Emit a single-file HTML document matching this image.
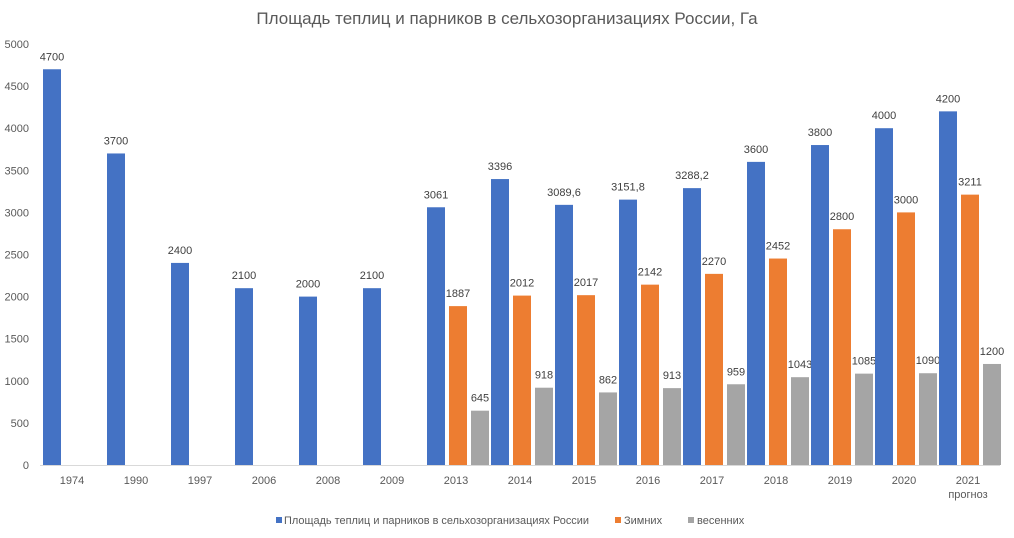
<!DOCTYPE html>
<html><head><meta charset="utf-8"><style>body{margin:0;background:#fff}svg{display:block}text{font-family:"Liberation Sans",sans-serif}</style></head><body>
<svg width="1014" height="538" xmlns="http://www.w3.org/2000/svg">
<rect width="1014" height="538" fill="#fff"/>
<text x="507" y="24" text-anchor="middle" font-size="17" fill="#595959">Площадь теплиц и парников в сельхозорганизациях России, Га</text>
<g font-size="11" fill="#595959" text-anchor="end" id="yt"></g>
<line x1="40" y1="465.5" x2="1000" y2="465.5" stroke="#d9d9d9"/>
<g id="bars"></g>
<g font-size="11" fill="#595959" text-anchor="middle" id="xl"></g>
<g font-size="11" fill="#595959">
<rect x="276" y="517" width="6" height="6" fill="#4472C4"/><text x="284" y="524" textLength="305" lengthAdjust="spacingAndGlyphs">Площадь теплиц и парников в сельхозорганизациях России</text>
<rect x="615" y="517" width="6" height="6" fill="#ED7D31"/><text x="624" y="524">Зимних</text>
<rect x="688" y="517" width="6" height="6" fill="#A5A5A5"/><text x="697" y="524">весенних</text>
</g>
<script>
var ns="http://www.w3.org/2000/svg";
function el(p,t,a,txt){var e=document.createElementNS(ns,t);for(var k in a)e.setAttribute(k,a[k]);if(txt!=null)e.textContent=txt;document.getElementById(p).appendChild(e);}
var Y=function(v){return 465-v*0.0842;};
for(var v=0;v<=5000;v+=500)el("yt","text",{x:29,y:Y(v)+4},v);
var yrs=["1974","1990","1997","2006","2008","2009","2013","2014","2015","2016","2017","2018","2019","2020","2021"];
var b=[[4700,"4700"],[3700,"3700"],[2400,"2400"],[2100,"2100"],[2000,"2000"],[2100,"2100"],[3061,"3061"],[3396,"3396"],[3089.6,"3089,6"],[3151.8,"3151,8"],[3288.2,"3288,2"],[3600,"3600"],[3800,"3800"],[4000,"4000"],[4200,"4200"]];
var o=[1887,2012,2017,2142,2270,2452,2800,3000,3211];
var g=[645,918,862,913,959,1043,1085,1090,1200];
function bar(x,v,lab,c){el("bars","rect",{x:x,y:Y(v),width:18,height:v*0.0842,fill:c});el("bars","text",{x:x+9,y:Y(v)-9,"font-size":11,fill:"#404040","text-anchor":"middle"},lab);}
for(var i=0;i<15;i++){var c=72+64*i;
bar(c-29,b[i][0],b[i][1],"#4472C4");
if(i>=6){bar(c-7,o[i-6],o[i-6],"#ED7D31");bar(c+15,g[i-6],g[i-6],"#A5A5A5");}
el("xl","text",{x:c,y:484},yrs[i]);}
el("xl","text",{x:968,y:498},"прогноз");
</script>
</svg>
</body></html>
